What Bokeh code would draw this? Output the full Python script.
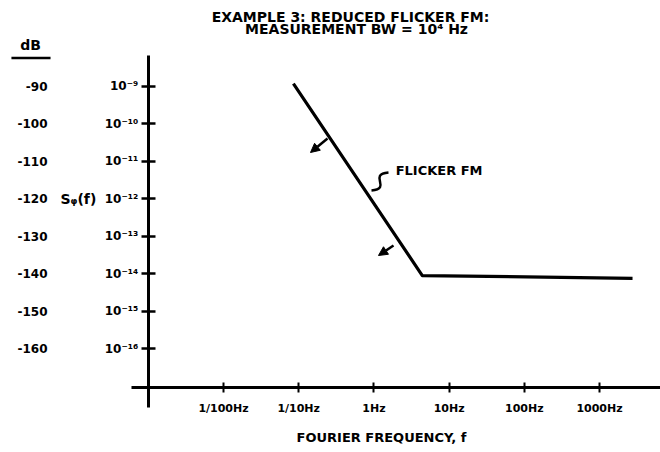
from bokeh.plotting import figure
from bokeh.models import (Range1d, LinearScale, LinearAxis, FixedTicker,
                          CustomJSTickFormatter, Label, Arrow, NormalHead,
                          ColumnDataSource)
from bokeh.embed import file_html
from bokeh.resources import INLINE

# ---- data ----
freq_hz = [0.085, 4.4, 2750.0]          # Fourier frequency, Hz
sphi = [1.2e-9, 8.9e-15, 7.5e-15]       # S_phi(f)

x_ticks = [0.01, 0.1, 1, 10, 100, 1000]
x_tick_labels = ["1/100Hz", "1/10Hz", "1Hz", "10Hz", "100Hz", "1000Hz"]
y_ticks = [1e-9, 1e-10, 1e-11, 1e-12, 1e-13, 1e-14, 1e-15, 1e-16]
y_tick_labels = ["10⁻⁹", "10⁻¹⁰", "10⁻¹¹", "10⁻¹²", "10⁻¹³", "10⁻¹⁴", "10⁻¹⁵", "10⁻¹⁶"]
db_ticks = [-90, -100, -110, -120, -130, -140, -150, -160]
db_tick_labels = ["-90", "-100", "-110", "-120", "-130", "-140", "-150", "-160"]

title_lines = ["EXAMPLE 3: REDUCED FLICKER FM:", "MEASUREMENT BW = 10⁴ Hz"]
x_title = "FOURIER FREQUENCY, f"
y_title = "Sᵩ(f)"
db_title = "dB"
curve_label = "FLICKER FM"

# annotation anchors (arrows showing the reduction, leader to the curve label)
arrow_tail_x = [10 ** -0.617, 10 ** 0.261]
arrow_tail_y = [10 ** -10.389, 10 ** -13.248]
arrow_head_x = [10 ** -0.843, 10 ** 0.061]
arrow_head_y = [10 ** -10.763, 10 ** -13.515]

FONT = "DejaVu Sans"

# the frame spans the whole canvas; axes are pinned with fixed_location
LX0, LX1 = -4.9654, 3.8112
LY0, LY1 = -18.7784, -6.7024
p = figure(width=660, height=452, x_axis_type="log", y_axis_type="log",
           x_range=Range1d(10 ** LX0, 10 ** LX1),
           y_range=Range1d(10 ** LY0, 10 ** LY1),
           output_backend="svg", toolbar_location=None,
           min_border_left=0, min_border_right=0,
           min_border_top=0, min_border_bottom=0)
p.outline_line_color = None
p.grid.visible = False
p.background_fill_color = "white"
p.border_fill_color = "white"

fmt_log = """
const i = tv.findIndex(t => Math.abs(Math.log10(t) - Math.log10(tick)) < 1e-6);
return i >= 0 ? tl[i] : "";
"""
fmt_lin = """
const i = tv.findIndex(t => Math.abs(t - tick) < 1e-6);
return i >= 0 ? tl[i] : "";
"""

x_origin = 1e-3
y_origin = 10 ** -17.042

# y axis (S_phi)
ya = p.yaxis[0]
ya.fixed_location = x_origin
ya.bounds = (10 ** -17.576, 10 ** -8.172)
ya.ticker = FixedTicker(ticks=y_ticks)
ya.formatter = CustomJSTickFormatter(args=dict(tv=y_ticks, tl=y_tick_labels), code=fmt_log)
ya.axis_line_width = 3
ya.axis_line_color = "black"
ya.major_tick_line_width = 2.5
ya.major_tick_in = 7
ya.major_tick_out = 7
ya.minor_tick_line_color = None
ya.major_label_standoff = 3
ya.major_label_text_font = FONT
ya.major_label_text_font_style = "bold"
ya.major_label_text_font_size = "12px"
ya.major_label_text_color = "black"

# x axis
xa = p.xaxis[0]
xa.fixed_location = y_origin
xa.bounds = (10 ** -3.226, 10 ** LX1)
xa.ticker = FixedTicker(ticks=x_ticks)
xa.formatter = CustomJSTickFormatter(args=dict(tv=x_ticks, tl=x_tick_labels), code=fmt_log)
xa.axis_line_width = 3
xa.axis_line_color = "black"
xa.major_tick_line_width = 2
xa.major_tick_in = 5
xa.major_tick_out = 5
xa.minor_tick_line_color = None
xa.major_label_standoff = 9
xa.major_label_text_font = FONT
xa.major_label_text_font_style = "bold"
xa.major_label_text_font_size = "11px"
xa.major_label_text_color = "black"

# dB axis
p.extra_y_ranges = {"db": Range1d(10 * LY0, 10 * LY1)}
p.extra_y_scales = {"db": LinearScale()}
dba = LinearAxis(y_range_name="db", ticker=FixedTicker(ticks=db_ticks),
                 formatter=CustomJSTickFormatter(args=dict(tv=db_ticks, tl=db_tick_labels), code=fmt_lin))
dba.fixed_location = 10 ** -4.3404
dba.axis_line_color = None
dba.major_tick_line_color = None
dba.minor_tick_line_color = None
dba.major_tick_out = 0
dba.major_tick_in = 0
dba.major_label_standoff = 0
dba.major_label_text_font = FONT
dba.major_label_text_font_style = "bold"
dba.major_label_text_font_size = "12px"
dba.major_label_text_color = "black"
p.add_layout(dba, "left")

# the curve
p.line(freq_hz, sphi, line_width=3.2, line_color="black", line_join="round")

# reduction arrows
asrc = ColumnDataSource(dict(x0=arrow_tail_x, y0=arrow_tail_y, x1=arrow_head_x, y1=arrow_head_y))
p.add_layout(Arrow(end=NormalHead(size=9, fill_color="black", line_color="black", line_width=1),
                   x_start="x0", y_start="y0", x_end="x1", y_end="y1",
                   source=asrc, line_width=2.5, line_color="black"))

# leader squiggle to the curve label
p.bezier(x0=[10 ** -0.032], y0=[10 ** -11.779], x1=[10 ** 0.194], y1=[10 ** -11.298],
         cx0=[10 ** 0.247], cy0=[10 ** -11.725], cx1=[10 ** -0.085], cy1=[10 ** -11.351],
         line_width=2.5, line_color="black")

def lab(x, y, text, size, align="center"):
    p.add_layout(Label(x=x, y=y, text=text, text_align=align, text_baseline="middle",
                       text_font=FONT, text_font_style="bold", text_font_size=size,
                       text_color="black"))

lab(10 ** 0.29, 10 ** -11.244, curve_label, "13px", "left")
lab(10 ** -0.311, 10 ** -7.130, title_lines[0], "14px")
lab(10 ** -0.231, 10 ** -7.460, title_lines[1], "14px")
lab(10 ** 0.101, 10 ** -18.378, x_title, "13px")
lab(10 ** -4.1676, 10 ** -12.019, y_title, "14px", "left")
lab(10 ** -4.566, 10 ** -7.878, db_title, "14px")

# underline of the dB header
p.line([10 ** -4.82, 10 ** -4.30], [10 ** -8.24, 10 ** -8.24], line_width=2.5, line_color="black")

open("out.html", "w").write(file_html(p, INLINE))
